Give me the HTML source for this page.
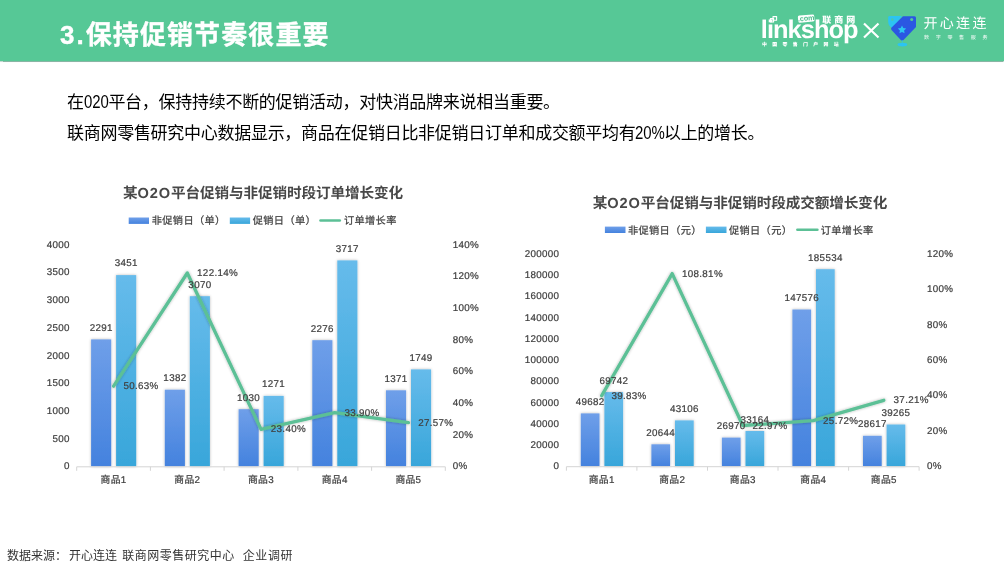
<!DOCTYPE html>
<html lang="zh-CN">
<head>
<meta charset="utf-8">
<title>3.保持促销节奏很重要</title>
<style>
html,body{margin:0;padding:0;background:#fff;}
body{width:1004px;height:566px;position:relative;overflow:hidden;font-family:"Liberation Sans","Noto Sans CJK SC",sans-serif;}
.hdr{position:absolute;left:0;top:0;width:1004px;height:60.6px;background:#56c896;box-shadow:0 0.5px 1px rgba(40,120,90,0.55);}
.ttl{position:absolute;left:60px;top:17.1px;font-size:26px;line-height:36px;font-weight:bold;color:#fff;letter-spacing:1.1px;-webkit-text-stroke:0.35px #fff;white-space:nowrap;font-family:"Liberation Sans","Noto Sans CJK SC",sans-serif;}
.p{position:absolute;left:67px;font-size:17px;line-height:24px;color:#000;white-space:nowrap;letter-spacing:-0.28px;}
.p span{display:inline-block;font-size:18px;letter-spacing:0;transform:scaleX(0.83);transform-origin:0 50%;line-height:24px;vertical-align:baseline;}
.p1{top:89.5px;}
.p2{top:120.5px;}
.src{position:absolute;left:7px;top:547.1px;font-size:12px;line-height:18px;color:#333;white-space:nowrap;}
svg{position:absolute;left:0;top:0;}
svg text{font-family:"Liberation Sans","Noto Sans CJK SC",sans-serif;font-size:9.8px;letter-spacing:0.32px;fill:#404040;text-rendering:geometricPrecision;}
svg text.ct{font-size:14.6px;font-weight:bold;fill:#484848;letter-spacing:-0.1px;}
svg text.ct tspan{letter-spacing:0.9px;}
#chartL text,#chartR text{stroke:#404040;stroke-width:0.22px;}
svg text.ct{stroke:none !important;}
svg text.lg{fill:#404040;font-size:10.2px;letter-spacing:0.35px;}
</style>
</head>
<body>
<div class="hdr"></div>
<div class="ttl"><span style="letter-spacing:2px">3.</span>保持促销节奏很重要</div>
<div class="p p1">在<span style="margin-right:-5.4px">020</span>平台，保持持续不断的促销活动，对快消品牌来说相当重要。</div>
<div class="p p2">联商网零售研究中心数据显示，商品在促销日比非促销日订单和成交额平均有<span style="margin-right:-7.6px">20%</span>以上的增长。</div>
<div class="src">数据来源：<span style="margin-left:2.1px">开心连连</span> <span style="margin-left:1.8px;letter-spacing:0.5px">联商网零售研究中心</span> <span style="margin-left:4.6px;letter-spacing:0.6px">企业调研</span></div>
<svg width="1004" height="566" viewBox="0 0 1004 566">
<defs>
<linearGradient id="gb" x1="0" y1="0" x2="0" y2="1"><stop offset="0" stop-color="#6f9fe9"/><stop offset="1" stop-color="#4482de"/></linearGradient>
<linearGradient id="gc" x1="0" y1="0" x2="0" y2="1"><stop offset="0" stop-color="#66bbeb"/><stop offset="1" stop-color="#38a6da"/></linearGradient>
<filter id="sh" x="-30%" y="-10%" width="160%" height="120%"><feGaussianBlur in="SourceAlpha" stdDeviation="1.6"/><feComponentTransfer><feFuncA type="linear" slope="0.28"/></feComponentTransfer><feMerge><feMergeNode/><feMergeNode in="SourceGraphic"/></feMerge></filter>
<filter id="sh2" x="-10%" y="-10%" width="120%" height="120%"><feGaussianBlur in="SourceAlpha" stdDeviation="1.4"/><feComponentTransfer><feFuncA type="linear" slope="0.3"/></feComponentTransfer><feMerge><feMergeNode/><feMergeNode in="SourceGraphic"/></feMerge></filter>
</defs>
<!-- LOGOS -->
<g id="logos">
<text x="760.8" y="38.1" style="font-size:25.4px;font-weight:bold;fill:#fff;letter-spacing:-0.95px;">linkshop</text>
<path d="M770.4 18.6h3.2v3.4h-3.2zM773 16.6h3.6v3.6h-3.6z" stroke="#fff" stroke-width="1.1" fill="none" stroke-linejoin="round"/>
<g transform="rotate(-5 806 18.5)"><rect x="798" y="15" width="16.4" height="7.2" rx="1.6" fill="#fff"/><text x="806.2" y="20.7" text-anchor="middle" style="font-size:7.2px;font-weight:bold;fill:#4cbf8d;letter-spacing:0;">.com</text></g>
<text x="822.3" y="23.4" style="font-size:9px;font-weight:900;fill:#fff;letter-spacing:3px;">联商网</text>
<text x="762" y="46.3" style="font-size:4.9px;font-weight:900;fill:#fff;letter-spacing:5.35px;">中国零售门户网站</text>
<path d="M864 23.5L878.5 37.5M878.5 23.5L864 37.5" stroke="#fff" stroke-width="2.2" fill="none"/>
<path d="M889.6 16H902L893 28.6Q888.2 26.5 888.2 21.5V17.4Q888.2 16 889.6 16Z" fill="#2cc4f2"/>
<path d="M903 16.2H914.5Q916 16.2 916 17.8V27L903.5 40Q902 41 900.8 40L891.5 30Q890.5 28.6 891.6 27.4Z" fill="#2b57e2"/>
<circle cx="911.7" cy="19.6" r="1.5" fill="#56c896"/>
<circle cx="892.3" cy="19.6" r="1.3" fill="#56c896" opacity="0.7"/>
<path transform="translate(902 29.9) scale(1.22) translate(-901.7 -29.9)" d="M901.7 26.2l1.05 2.15 2.37.34-1.71 1.67.4 2.36-2.11-1.11-2.11 1.11.4-2.36-1.71-1.67 2.37-.34z" fill="#2cc4f2"/>
<path d="M902.3 40V44" stroke="#2cc4f2" stroke-width="0.6"/>
<ellipse cx="902.4" cy="44.6" rx="4.9" ry="1.9" fill="#2cc4f2"/>
<text x="923.5" y="27.8" style="font-size:14px;font-weight:400;fill:#fff;letter-spacing:2.3px;">开心连连</text>
<text x="924" y="39.2" style="font-size:5px;fill:#fff;letter-spacing:6.7px;opacity:0.95;">数字零售服务</text>
</g>
<!-- LEFT CHART -->
<g id="chartL">
<text class="ct" x="263" y="197.5" text-anchor="middle">某<tspan>O2O</tspan>平台促销与非促销时段订单增长变化</text>
<rect x="128.7" y="217.5" width="20.3" height="6.4" fill="url(#gb)"/>
<text class="lg" x="151.8" y="224.4">非促销日（单）</text>
<rect x="229.8" y="217.5" width="20.3" height="6.4" fill="url(#gc)"/>
<text class="lg" x="252.8" y="224.4">促销日（单）</text>
<path d="M320.5 220.5H339.8" stroke="#5cc096" stroke-width="2.6" stroke-linecap="round"/>
<text class="lg" x="344" y="224.4">订单增长率</text>
<rect x="91.1" y="339.4" width="20.1" height="126.9" fill="url(#gb)" filter="url(#sh)"/>
<rect x="116.1" y="275.1" width="20.1" height="191.2" fill="url(#gc)" filter="url(#sh)"/>
<rect x="164.8" y="389.7" width="20.1" height="76.6" fill="url(#gb)" filter="url(#sh)"/>
<rect x="189.8" y="296.2" width="20.1" height="170.1" fill="url(#gc)" filter="url(#sh)"/>
<rect x="238.6" y="409.2" width="20.1" height="57.1" fill="url(#gb)" filter="url(#sh)"/>
<rect x="263.6" y="395.9" width="20.1" height="70.4" fill="url(#gc)" filter="url(#sh)"/>
<rect x="312.3" y="340.2" width="20.1" height="126.1" fill="url(#gb)" filter="url(#sh)"/>
<rect x="337.3" y="260.4" width="20.1" height="205.9" fill="url(#gc)" filter="url(#sh)"/>
<rect x="386.0" y="390.3" width="20.1" height="76.0" fill="url(#gb)" filter="url(#sh)"/>
<rect x="411.0" y="369.4" width="20.1" height="96.9" fill="url(#gc)" filter="url(#sh)"/>
<path d="M76.7 466.8H445.3" stroke="#d4d4d4" stroke-width="1" fill="none"/>
<path d="M76.7 466.8v4M150.4 466.8v4M224.1 466.8v4M297.9 466.8v4M371.6 466.8v4M445.3 466.8v4" stroke="#d4d4d4" stroke-width="1" fill="none"/>
<path d="M113.6 386.2 L187.3 273.0 L261.0 429.3 L334.7 412.6 L408.4 422.7" stroke="#5cc096" stroke-width="3.3" fill="none" stroke-linecap="round" stroke-linejoin="round" filter="url(#sh2)"/>
<text x="69.8" y="469.3" text-anchor="end">0</text>
<text x="69.8" y="441.6" text-anchor="end">500</text>
<text x="69.8" y="413.9" text-anchor="end">1000</text>
<text x="69.8" y="386.2" text-anchor="end">1500</text>
<text x="69.8" y="358.5" text-anchor="end">2000</text>
<text x="69.8" y="330.8" text-anchor="end">2500</text>
<text x="69.8" y="303.1" text-anchor="end">3000</text>
<text x="69.8" y="275.4" text-anchor="end">3500</text>
<text x="69.8" y="247.7" text-anchor="end">4000</text>
<text x="452.7" y="469.3">0%</text>
<text x="452.7" y="437.6">20%</text>
<text x="452.7" y="406.0">40%</text>
<text x="452.7" y="374.3">60%</text>
<text x="452.7" y="342.7">80%</text>
<text x="452.7" y="311.0">100%</text>
<text x="452.7" y="279.4">120%</text>
<text x="452.7" y="247.7">140%</text>
<text x="113.6" y="483.1" text-anchor="middle">商品1</text>
<text x="187.3" y="483.1" text-anchor="middle">商品2</text>
<text x="261.0" y="483.1" text-anchor="middle">商品3</text>
<text x="334.7" y="483.1" text-anchor="middle">商品4</text>
<text x="408.4" y="483.1" text-anchor="middle">商品5</text>
<text x="101.2" y="330.7" text-anchor="middle">2291</text>
<text x="126.2" y="266.4" text-anchor="middle">3451</text>
<text x="123.4" y="389.2">50.63%</text>
<text x="174.9" y="381.0" text-anchor="middle">1382</text>
<text x="199.9" y="287.5" text-anchor="middle">3070</text>
<text x="197.1" y="276.0">122.14%</text>
<text x="248.6" y="400.5" text-anchor="middle">1030</text>
<text x="273.6" y="387.2" text-anchor="middle">1271</text>
<text x="270.8" y="432.3">23.40%</text>
<text x="322.3" y="331.5" text-anchor="middle">2276</text>
<text x="347.3" y="251.7" text-anchor="middle">3717</text>
<text x="344.5" y="415.6">33.90%</text>
<text x="396.0" y="381.6" text-anchor="middle">1371</text>
<text x="421.0" y="360.7" text-anchor="middle">1749</text>
<text x="418.2" y="425.7">27.57%</text>
</g>
<!-- RIGHT CHART -->
<g id="chartR">
<text class="ct" x="740" y="207.5" text-anchor="middle">某<tspan>O2O</tspan>平台促销与非促销时段成交额增长变化</text>
<rect x="604.9" y="226.6" width="20.6" height="6.4" fill="url(#gb)"/>
<text class="lg" x="628" y="233.6">非促销日（元）</text>
<rect x="705.9" y="226.6" width="20.6" height="6.4" fill="url(#gc)"/>
<text class="lg" x="729" y="233.6">促销日（元）</text>
<path d="M797.4 229.8H817.4" stroke="#5cc096" stroke-width="2.6" stroke-linecap="round"/>
<text class="lg" x="820.8" y="233.6">订单增长率</text>
<rect x="580.8" y="413.4" width="18.7" height="52.8" fill="url(#gb)" filter="url(#sh)"/>
<rect x="604.4" y="392.1" width="18.7" height="74.1" fill="url(#gc)" filter="url(#sh)"/>
<rect x="651.4" y="444.3" width="18.7" height="21.9" fill="url(#gb)" filter="url(#sh)"/>
<rect x="675.0" y="420.4" width="18.7" height="45.8" fill="url(#gc)" filter="url(#sh)"/>
<rect x="721.9" y="437.6" width="18.7" height="28.6" fill="url(#gb)" filter="url(#sh)"/>
<rect x="745.5" y="431.0" width="18.7" height="35.2" fill="url(#gc)" filter="url(#sh)"/>
<rect x="792.4" y="309.5" width="18.7" height="156.7" fill="url(#gb)" filter="url(#sh)"/>
<rect x="816.0" y="269.2" width="18.7" height="197.0" fill="url(#gc)" filter="url(#sh)"/>
<rect x="863.0" y="435.8" width="18.7" height="30.4" fill="url(#gb)" filter="url(#sh)"/>
<rect x="886.6" y="424.5" width="18.7" height="41.7" fill="url(#gc)" filter="url(#sh)"/>
<path d="M566.4 466.7H919.1" stroke="#d4d4d4" stroke-width="1" fill="none"/>
<path d="M566.4 466.7v4M636.9 466.7v4M707.5 466.7v4M778.0 466.7v4M848.6 466.7v4M919.1 466.7v4" stroke="#d4d4d4" stroke-width="1" fill="none"/>
<path d="M601.7 395.7 L672.2 273.6 L742.8 425.5 L813.3 420.7 L883.8 400.3" stroke="#5cc096" stroke-width="3.3" fill="none" stroke-linecap="round" stroke-linejoin="round" filter="url(#sh2)"/>
<text x="559.4" y="469.2" text-anchor="end">0</text>
<text x="559.4" y="448.0" text-anchor="end">20000</text>
<text x="559.4" y="426.7" text-anchor="end">40000</text>
<text x="559.4" y="405.5" text-anchor="end">60000</text>
<text x="559.4" y="384.2" text-anchor="end">80000</text>
<text x="559.4" y="363.0" text-anchor="end">100000</text>
<text x="559.4" y="341.8" text-anchor="end">120000</text>
<text x="559.4" y="320.5" text-anchor="end">140000</text>
<text x="559.4" y="299.3" text-anchor="end">160000</text>
<text x="559.4" y="278.0" text-anchor="end">180000</text>
<text x="559.4" y="256.8" text-anchor="end">200000</text>
<text x="927" y="469.2">0%</text>
<text x="927" y="433.8">20%</text>
<text x="927" y="398.4">40%</text>
<text x="927" y="363.0">60%</text>
<text x="927" y="327.6">80%</text>
<text x="927" y="292.2">100%</text>
<text x="927" y="256.8">120%</text>
<text x="601.7" y="483.0" text-anchor="middle">商品1</text>
<text x="672.2" y="483.0" text-anchor="middle">商品2</text>
<text x="742.8" y="483.0" text-anchor="middle">商品3</text>
<text x="813.3" y="483.0" text-anchor="middle">商品4</text>
<text x="883.8" y="483.0" text-anchor="middle">商品5</text>
<text x="590.2" y="405.0" text-anchor="middle">49682</text>
<text x="613.8" y="383.7" text-anchor="middle">69742</text>
<text x="611.5" y="398.7">39.83%</text>
<text x="660.7" y="435.9" text-anchor="middle">20644</text>
<text x="684.3" y="412.0" text-anchor="middle">43106</text>
<text x="682.0" y="276.6">108.81%</text>
<text x="731.2" y="429.2" text-anchor="middle">26970</text>
<text x="754.9" y="422.6" text-anchor="middle">33164</text>
<text x="752.5" y="428.5">22.97%</text>
<text x="801.8" y="301.1" text-anchor="middle">147576</text>
<text x="825.4" y="260.8" text-anchor="middle">185534</text>
<text x="823.1" y="423.7">25.72%</text>
<text x="872.3" y="427.4" text-anchor="middle">28617</text>
<text x="895.9" y="416.1" text-anchor="middle">39265</text>
<text x="893.6" y="403.3">37.21%</text>
</g>
</svg>
</body>
</html>
